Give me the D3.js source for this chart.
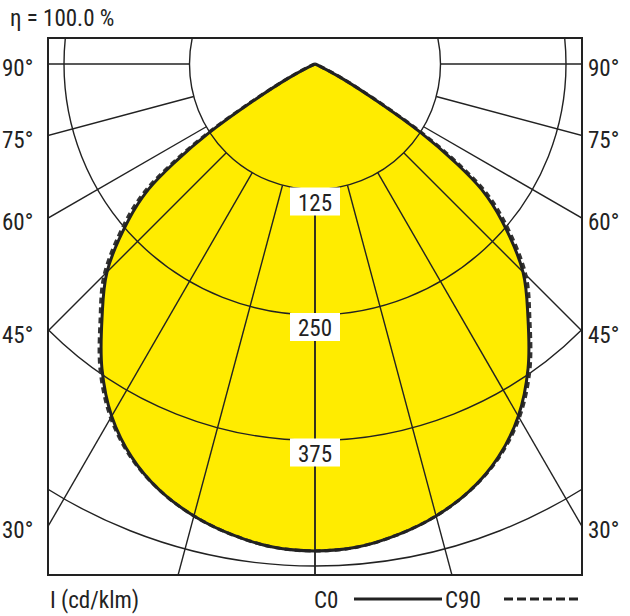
<!DOCTYPE html>
<html><head><meta charset="utf-8">
<script src="https://cdn.jsdelivr.net/npm/d3@7"></script>
<style>body{margin:0;background:#fff}text{font-family:"Liberation Sans Narrow","Roboto Condensed","Liberation Sans",sans-serif;fill:#222}</style>
</head><body><svg id="c" width="630" height="616"></svg>
<script>
const angles = [0,5,10,15,20,25,30,35,40,45,50,53,55,57,59,62,66,70,80,90];
const c0 =     [485,483,476,466,452,432,405,370,330,293,243,208,170,126,75,30,5,0,0,0];
const c90 =    [485,483,476,466,452,433,407,373,333,297,248,214,177,132,80,33,6,0,0,0];
const rings = [125,250,375,500];
const ringLabels = ["125","250","375"];
const sideAngles = [90,75,60,45,30];
const spokes = [0,15,30,45,60,75,90];

const svg = d3.select("#c");
const cx=315, cy=64, X0=48, X1=582, Y0=38, Y1=575;
const r = d3.scaleLinear().domain([0,500]).range([0,502]);
const pt = (a,v)=>{const t=a*Math.PI/180;return [cx+r(v)*Math.sin(t), cy+r(v)*Math.cos(t)];};
svg.append("clipPath").attr("id","clip").append("rect").attr("x",X0).attr("y",Y0).attr("width",X1-X0).attr("height",Y1-Y0);
const g = svg.append("g").attr("clip-path","url(#clip)");
function full(vals){
  const pts=[];
  for(let i=angles.length-1;i>=0;i--) pts.push(pt(-angles[i],vals[i]));
  for(let i=1;i<angles.length;i++) pts.push(pt(angles[i],vals[i]));
  return pts;
}
const line = d3.line().curve(d3.curveCatmullRom);
g.append("path").attr("d",line(full(c0))+"Z").attr("fill","#ffec00").attr("stroke","none");
rings.forEach(v=>g.append("circle").attr("cx",cx).attr("cy",cy).attr("r",r(v)).attr("fill","none").attr("stroke","#222").attr("stroke-width",1.4));
spokes.forEach(a=>[-1,1].forEach(s=>{
  const p1=pt(s*a,125), p2=pt(s*a,900);
  g.append("line").attr("x1",p1[0]).attr("y1",p1[1]).attr("x2",p2[0]).attr("y2",p2[1]).attr("stroke","#222").attr("stroke-width",1.4);
}));
g.append("path").attr("d",line(full(c90))).attr("fill","none").attr("stroke","#333").attr("stroke-width",3.2).attr("stroke-dasharray","6,4");
g.append("path").attr("d",line(full(c0))).attr("fill","none").attr("stroke","#222").attr("stroke-width",3);
svg.append("rect").attr("x",X0).attr("y",Y0).attr("width",X1-X0).attr("height",Y1-Y0).attr("fill","none").attr("stroke","#222").attr("stroke-width",2);
ringLabels.forEach((t,i)=>{
  const y=cy+r(rings[i]);
  svg.append("rect").attr("x",cx-25).attr("y",y-2).attr("width",50).attr("height",28).attr("fill","#fff");
  svg.append("text").attr("x",cx).attr("y",y+21).attr("text-anchor","middle").attr("font-size",23).text(t);
});
sideAngles.forEach(a=>{
  const yy = a==90?cy:cy+(X1-cx)/Math.tan(a*Math.PI/180);
  svg.append("text").attr("x",2).attr("y",yy+12).attr("font-size",23).text(a+"°");
  svg.append("text").attr("x",588).attr("y",yy+12).attr("font-size",23).text(a+"°");
});
svg.append("text").attr("x",10).attr("y",26).attr("font-size",23).text("η = 100.0 %");
svg.append("text").attr("x",50).attr("y",608).attr("font-size",23).text("I (cd/klm)");
svg.append("text").attr("x",314).attr("y",608).attr("font-size",23).text("C0");
svg.append("line").attr("x1",354).attr("x2",442).attr("y1",599).attr("y2",599).attr("stroke","#222").attr("stroke-width",3);
svg.append("text").attr("x",445).attr("y",608).attr("font-size",23).text("C90");
svg.append("line").attr("x1",504).attr("x2",578).attr("y1",599).attr("y2",599).attr("stroke","#222").attr("stroke-width",3).attr("stroke-dasharray","9,4");
</script></body></html>
